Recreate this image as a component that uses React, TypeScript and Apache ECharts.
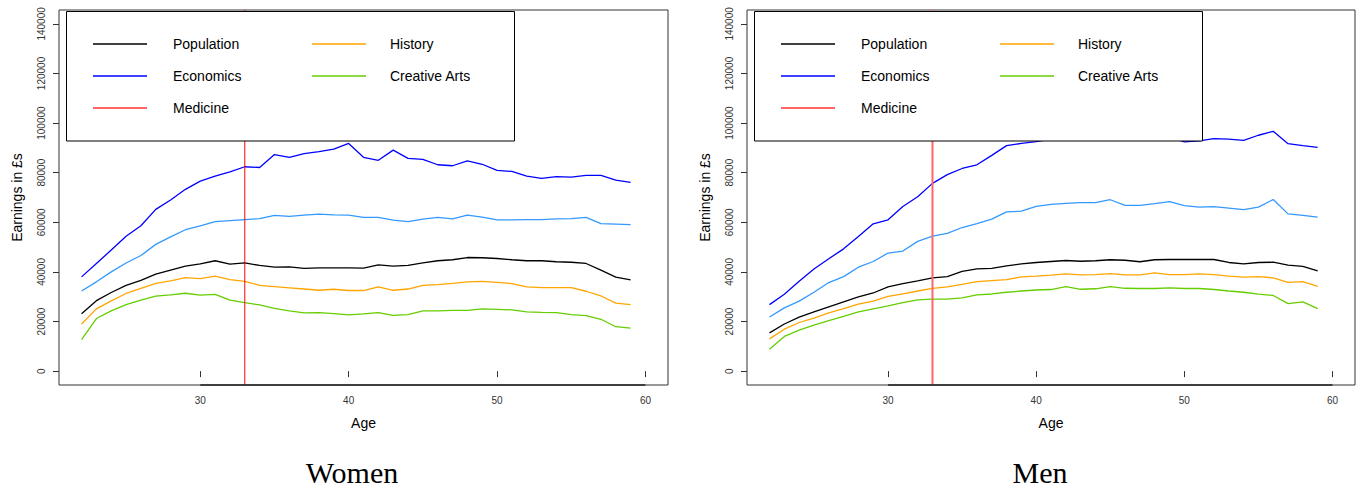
import React, { useEffect, useRef } from "react";
import * as echarts from "echarts";

const ages = [22,23,24,25,26,27,28,29,30,31,32,33,34,35,36,37,38,39,40,41,42,43,44,45,46,47,48,49,50,51,52,53,54,55,56,57,58,59];

const popW = [23100,28400,31700,34600,36600,39100,40700,42300,43200,44500,43100,43600,42600,41900,42000,41400,41600,41600,41600,41500,42800,42300,42600,43600,44500,44900,45800,45700,45400,44900,44500,44500,44100,43900,43400,40700,37900,36800];
const econW = [38000,43400,48800,54400,58600,65200,69000,73300,76600,78600,80300,82400,82100,87300,86200,87700,88500,89500,91800,86200,85000,89100,85800,85400,83200,82800,84800,83400,80900,80500,78600,77700,78400,78200,78900,78900,77000,76100];
const otherW = [32300,36000,40000,43600,46600,51100,54100,57000,58600,60300,60700,61100,61500,62800,62400,62900,63300,63000,62900,62000,62000,60900,60300,61300,62000,61400,62900,62100,61000,61000,61100,61100,61400,61500,62000,59500,59300,59100];
const histW = [19000,25100,28300,31300,33400,35400,36400,37700,37300,38300,36900,36200,34600,34100,33600,33100,32600,33000,32500,32500,34000,32600,33100,34600,34900,35400,36000,36200,35800,35300,34000,33700,33700,33700,32200,30300,27400,26800];
const artsW = [12700,21200,24300,26800,28600,30200,30700,31400,30600,30900,28600,27600,26700,25300,24300,23500,23600,23200,22700,23100,23600,22500,22800,24300,24300,24500,24500,25100,24900,24700,23900,23700,23600,22800,22400,20900,17900,17300];

const popM = [15400,19000,21800,23900,25900,27900,29900,31500,34000,35300,36400,37600,38100,40200,41200,41400,42400,43200,43800,44200,44600,44300,44500,44900,44700,44100,44900,45000,45000,45000,45000,43800,43200,43800,43900,42700,42200,40400];
const econM = [26800,31000,36200,41200,45300,49300,54300,59400,61000,66400,70300,75700,79200,81700,83200,87000,90900,91800,92500,93500,94500,95000,95500,96500,95500,95000,95500,94500,92400,92800,93700,93500,93000,95100,96700,91700,90900,90200];
const otherM = [21800,25500,28200,31800,35700,38100,41900,44200,47600,48400,52300,54400,55500,57900,59500,61300,64200,64500,66400,67200,67600,67900,67900,69100,66800,66800,67500,68300,66700,66100,66300,65700,65100,66100,69200,63400,62800,62100];
const histM = [13000,16900,19600,21400,23500,25200,27000,28200,30100,31100,32300,33400,34000,35000,36100,36500,36900,38000,38300,38700,39200,38800,38900,39300,38800,38800,39600,38900,38900,39200,38900,38300,37900,38100,37600,35800,36100,34200];
const artsM = [8800,14000,16500,18500,20400,22100,23900,25100,26300,27600,28700,29000,29000,29500,30700,31100,31800,32300,32700,32900,34100,33000,33200,34100,33400,33300,33300,33600,33300,33300,32900,32300,31800,31000,30500,27200,27900,25200];

const medicineAge = 33;
const xTicks = [30, 40, 50, 60];
const yTicks = [0, 20000, 40000, 60000, 80000, 100000, 120000, 140000];
const legendNames = ["Population", "Economics", "Medicine", "History", "Creative Arts"];
const panelTitles = ["Women", "Men"];

const COLORS = {
  pop: "#000000",
  econ: "#0000ff",
  other: "#3399ff",
  hist: "#ffa500",
  arts: "#66cd00",
};
const SANS = '"Liberation Sans", Arial, sans-serif';

const pair = (vals: number[]) => ages.map((a, i) => [a, vals[i]]);

export default function App() {
  const ref = useRef<HTMLDivElement>(null);
  useEffect(() => {
    if (!ref.current) return;
    const chart = echarts.init(ref.current, null, { renderer: "svg" });

    const grids = [
      { left: 59, top: 10, width: 609, height: 375 },
      { left: 747, top: 10, width: 608, height: 375 },
    ];
    const xMin = 20.48, xMax = 61.52, yMin = -5600, yMax = 145600;

    const xAxes = grids.map((_, i) => ({
      type: "value",
      gridIndex: i,
      min: xMin,
      max: xMax,
      name: "Age",
      nameLocation: "middle",
      nameGap: 31,
      nameTextStyle: { fontFamily: SANS, fontSize: 14, color: "#000" },
      axisLine: { show: false },
      splitLine: { show: false },
      axisTick: { show: true, length: 6, customValues: xTicks, lineStyle: { color: "#333" } },
      axisLabel: { customValues: xTicks, fontFamily: SANS, fontSize: 10, color: "#333", margin: 10 },
    }));
    const yAxes = grids.map((_, i) => ({
      type: "value",
      gridIndex: i,
      min: yMin,
      max: yMax,
      name: "Earnings in £s",
      nameLocation: "middle",
      nameGap: 35,
      nameRotate: 90,
      nameTextStyle: { fontFamily: SANS, fontSize: 14, color: "#000" },
      axisLine: { show: false },
      splitLine: { show: false },
      axisTick: { show: true, length: 6, customValues: yTicks, lineStyle: { color: "#333" } },
      axisLabel: {
        customValues: yTicks,
        rotate: 90,
        fontFamily: SANS,
        fontSize: 10,
        color: "#333",
        margin: 13,
        formatter: (v: number) => String(v),
      },
    }));

    const panels = [
      { pop: popW, econ: econW, other: otherW, hist: histW, arts: artsW, med: { color: "#ff0000", width: 1 } },
      { pop: popM, econ: econM, other: otherM, hist: histM, arts: artsM, med: { color: "#ff6666", width: 2 } },
    ];

    const series: any[] = [];
    panels.forEach((p, i) => {
      const mk = (name: string, data: number[][], color: string, width: number, z: number) => ({
        type: "line",
        name,
        xAxisIndex: i,
        yAxisIndex: i,
        data,
        showSymbol: false,
        symbol: "none",
        silent: true,
        clip: false,
        lineStyle: { color, width },
        itemStyle: { color },
        z,
      });
      series.push(mk("Other", pair(p.other), COLORS.other, 1.3, 3));
      series.push(mk("Creative Arts", pair(p.arts), COLORS.arts, 1.3, 3));
      series.push(mk("History", pair(p.hist), COLORS.hist, 1.3, 3));
      series.push(mk("Population", pair(p.pop), COLORS.pop, 1.3, 3));
      series.push(mk("Economics", pair(p.econ), COLORS.econ, 1.3, 3));
      series.push(mk("Medicine", [[medicineAge, yMin], [medicineAge, yMax]], p.med.color, p.med.width, 4));
      series.push(mk("x axis", [[xTicks[0], yMin], [xTicks[xTicks.length - 1], yMin]], "#222", 1.6, 5));
    });

    const legendColors = [COLORS.pop, COLORS.econ, "#ff3333", COLORS.hist, COLORS.arts];
    const graphics: any[] = [];
    grids.forEach((g, i) => {
      const ox = g.left;
      graphics.push({
        type: "rect",
        z: 100,
        shape: { x: ox + 7.5, y: 11.5, width: 448, height: 129.5 },
        style: { fill: "#fff", stroke: "#000", lineWidth: 1 },
      });
      const rows = [44, 76, 108];
      legendNames.forEach((nm, k) => {
        const col = k < 3 ? 0 : 1;
        const row = k < 3 ? k : k - 3;
        const lx = ox + (col === 0 ? 34 : 253);
        const tx = ox + (col === 0 ? 114 : 331);
        const y = rows[row];
        graphics.push({
          type: "line",
          z: 101,
          shape: { x1: lx, y1: y, x2: lx + 54, y2: y },
          style: { stroke: legendColors[k], lineWidth: 1.5 },
        });
        graphics.push({
          type: "text",
          z: 101,
          style: {
            text: nm,
            x: tx,
            y: y,
            font: `14px ${SANS}`,
            fill: "#000",
            align: "left",
            verticalAlign: "middle",
            textAlign: "left",
            textVerticalAlign: "middle",
          },
        });
      });
      graphics.push({
        type: "text",
        z: 101,
        style: {
          text: panelTitles[i],
          x: i === 0 ? 352 : 1040,
          y: 472,
          font: '30px "Liberation Serif", "Times New Roman", serif',
          fill: "#000",
          align: "center",
          verticalAlign: "middle",
          textAlign: "center",
          textVerticalAlign: "middle",
        },
      });
    });

    chart.setOption({
      animation: false,
      backgroundColor: "#fff",
      grid: grids.map((g) => ({ ...g, show: true, borderColor: "#333", borderWidth: 1, backgroundColor: "transparent" })),
      xAxis: xAxes,
      yAxis: yAxes,
      series,
      graphic: { elements: graphics },
    });
    return () => chart.dispose();
  }, []);

  return (
    <div
      ref={ref}
      style={{ position: "fixed", left: 0, top: 0, width: 1368, height: 487, background: "#fff" }}
    />
  );
}
